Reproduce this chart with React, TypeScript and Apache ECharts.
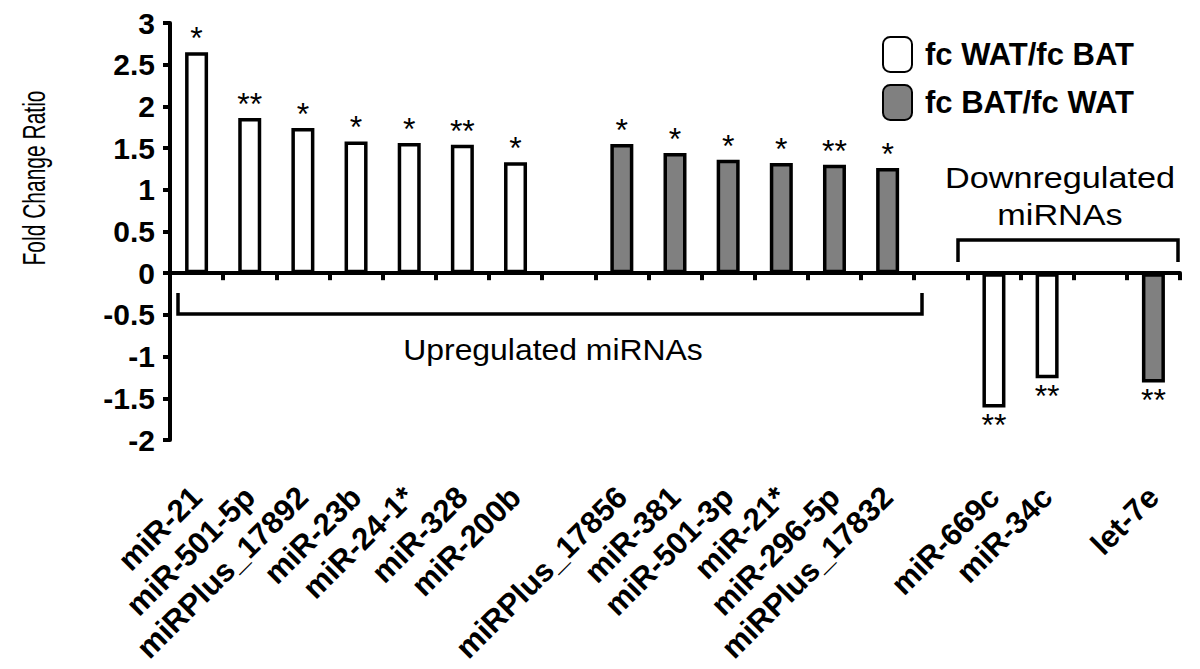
import React, { useEffect, useRef } from "react";
import * as echarts from "echarts";

const categories = [
  "miR-21", "miR-501-5p", "miRPlus_17892", "miR-23b", "miR-24-1*", "miR-328", "miR-200b",
  " ",
  "miRPlus_17856", "miR-381", "miR-501-3p", "miR-21*", "miR-296-5p", "miRPlus_17832",
  "  ",
  "miR-669c", "miR-34c",
  "   ",
  "let-7e",
];
const watOverBat = [2.65, 1.86, 1.74, 1.58, 1.56, 1.54, 1.33, null, null, null, null, null, null, null, null, -1.61, -1.26, null, null];
const batOverWat = [null, null, null, null, null, null, null, null, 1.55, 1.44, 1.36, 1.32, 1.30, 1.26, null, null, null, null, -1.31];
const significance = ["*", "**", "*", "*", "*", "**", "*", "", "*", "*", "*", "*", "**", "*", "", "**", "**", "", "**"];
const yTicks = { min: -2, max: 3, interval: 0.5 };
const seriesNames = ["fc WAT/fc BAT", "fc BAT/fc WAT"];

const FONT = "'Liberation Sans', Arial, Helvetica, sans-serif";

function toData(values: (number | null)[]) {
  return values.map((v) =>
    v === null
      ? null
      : { value: v, label: { position: v >= 0 ? "top" : "bottom", distance: v >= 0 ? -2 : 2 } }
  );
}

export default function App() {
  const ref = useRef<HTMLDivElement>(null);
  useEffect(() => {
    if (!ref.current) return;
    const chart = echarts.init(ref.current, undefined, { renderer: "svg" });
    const label = {
      show: true,
      formatter: (p: any) => significance[p.dataIndex] || "",
      fontSize: 32,
      fontFamily: FONT,
      color: "#000",
    };
    chart.setOption({
      animation: false,
      backgroundColor: "#fff",
      grid: { left: 170, right: 20, top: 23, bottom: 229, containLabel: false },
      legend: {
        orient: "vertical",
        left: 877,
        top: 31,
        itemWidth: 29,
        itemHeight: 35,
        itemGap: 11,
        textStyle: { fontSize: 31, fontFamily: FONT, fontWeight: "bold", color: "#000", padding: [0, 0, 0, 8] },
        data: seriesNames,
      },
      xAxis: [
        {
          type: "category",
          data: categories,
          boundaryGap: true,
          axisLine: { show: true, onZero: true, lineStyle: { color: "#000", width: 4 } },
          axisTick: { show: true, inside: false, length: 7, interval: 0, lineStyle: { color: "#000", width: 4 } },
          axisLabel: { show: false },
          splitLine: { show: false },
        },
        {
          type: "category",
          data: categories,
          position: "bottom",
          boundaryGap: true,
          axisLine: { show: false, onZero: false },
          axisTick: { show: false },
          axisLabel: {
            show: true,
            interval: 0,
            rotate: 45,
            margin: 52,
            fontSize: 31,
            fontWeight: "bold",
            fontFamily: FONT,
            color: "#000",
          },
          splitLine: { show: false },
        },
      ],
      yAxis: {
        type: "value",
        min: yTicks.min,
        max: yTicks.max,
        interval: yTicks.interval,
        axisLine: { show: true, lineStyle: { color: "#000", width: 4 } },
        axisTick: { show: true, length: 7, lineStyle: { color: "#000", width: 4 } },
        axisLabel: { fontSize: 30, fontWeight: "bold", fontFamily: FONT, color: "#000", margin: 15 },
        splitLine: { show: false },
      },
      series: [
        {
          name: seriesNames[0],
          type: "bar",
          xAxisIndex: 0,
          barWidth: 23,
          barGap: "-100%",
          data: toData(watOverBat),
          itemStyle: { color: "#ffffff", borderColor: "#000", borderWidth: 3.5 },
          label,
        },
        {
          name: seriesNames[1],
          type: "bar",
          xAxisIndex: 0,
          barWidth: 23,
          barGap: "-100%",
          data: toData(batOverWat),
          itemStyle: { color: "#808080", borderColor: "#000", borderWidth: 3.5 },
          label,
        },
      ],
      graphic: [
        {
          type: "text",
          x: 35,
          y: 178,
          rotation: Math.PI / 2,
          scaleY: 1.45,
          style: {
            text: "Fold Change Ratio",
            fontSize: 21,
            fontFamily: FONT,
            fill: "#000",
            align: "center",
            verticalAlign: "middle",
          },
        },
        {
          type: "polyline",
          shape: { points: [[178, 293], [178, 314], [922, 314], [922, 293]] },
          style: { stroke: "#000", lineWidth: 3.5, fill: null },
        },
        {
          type: "text",
          x: 553,
          y: 350,
          scaleX: 1.1,
          style: {
            text: "Upregulated miRNAs",
            fontSize: 29,
            fontFamily: FONT,
            fill: "#000",
            align: "center",
            verticalAlign: "middle",
          },
        },
        {
          type: "polyline",
          shape: { points: [[958, 262], [958, 240], [1178, 240], [1178, 262]] },
          style: { stroke: "#000", lineWidth: 3.5, fill: null },
        },
        {
          type: "text",
          x: 1060,
          y: 196,
          scaleX: 1.18,
          style: {
            text: "Downregulated\nmiRNAs",
            fontSize: 29,
            lineHeight: 37,
            fontFamily: FONT,
            fill: "#000",
            align: "center",
            verticalAlign: "middle",
          },
        },
      ],
    });
    return () => chart.dispose();
  }, []);
  return (
    <div
      ref={ref}
      style={{ position: "fixed", left: 0, top: 0, width: 1200, height: 669, background: "#fff" }}
    />
  );
}
